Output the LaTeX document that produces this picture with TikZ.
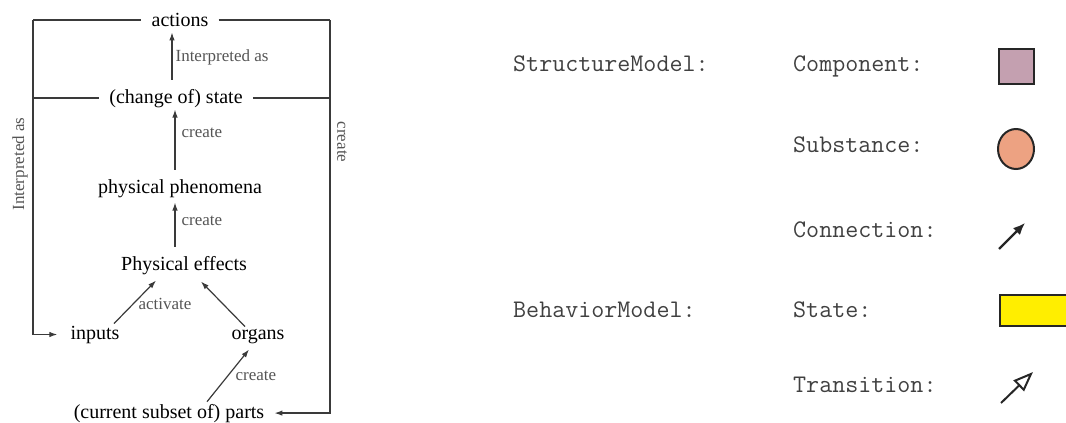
\documentclass[tikz,border=0pt]{standalone}
\usepackage{fontspec}
\setmainfont{Liberation Serif}
\usetikzlibrary{arrows.meta,positioning,shapes.geometric}
\definecolor{lineGray}{HTML}{3A3A3A}
\definecolor{labGray}{HTML}{555555}
\definecolor{monoGray}{HTML}{404040}
\definecolor{compMauve}{HTML}{C4A0B0}
\definecolor{substSalmon}{HTML}{EDA282}
\definecolor{stateYellow}{HTML}{FFEE00}
\tikzset{
  % concepts of the causal chain
  cpt/.style={font=\fontsize{20}{24}\selectfont, inner sep=2pt, anchor=base},
  % concepts that cut through a frame line
  cut/.style={cpt, inner xsep=10pt},
  % gray wording next to a connector
  lbl/.style={font=\fontsize{17}{20}\selectfont, text=labGray, inner sep=3pt},
  % connectors
  arr/.style={-{Latex[length=8pt,width=5.5pt]}, draw=lineGray, line width=1.2pt},
  frame/.style={draw=lineGray, line width=1.2pt},
  % legend
  key/.style={font=\ttfamily\fontsize{25.3}{30}\selectfont, text=monoGray, anchor=base west, inner sep=0pt},
  sym/.style={draw=black!85, line width=2pt},
}

\begin{document}
\begin{tikzpicture}[x=1pt,y=-1pt]
  \useasboundingbox (0,0) rectangle (1066,423);

  % chain of concepts
  \node[cut] (act)   at (180,26)  {actions};
  \node[cut] (st)    at (176,103) {(change of) state};
  \node[cpt] (phen)  at (180,193) {physical phenomena};
  \node[cpt] (eff)   at (184,270) {Physical effects};
  \node[cpt] (inp)   at (95,339)  {inputs};
  \node[cpt] (org)   at (258,339) {organs};
  \node[cpt] (parts) at (169,418) {(current subset of) parts};

  % frame corners
  \coordinate (tl) at (33,20);
  \coordinate (tr) at (330,20);
  \coordinate (ml) at (33,98);
  \coordinate (mr) at (330,98);

  \draw[frame] (tl) -- (tl -| act.west);
  \draw[frame] (tr -| act.east) -- (tr);
  \draw[frame] (ml) -- (ml -| st.west);
  \draw[frame] (mr -| st.east) -- (mr);
  \draw[arr, shorten >=11pt] (tl) |- (inp.west);
  \draw[arr, shorten >=8pt] (tr) |- (parts.east);
  \node[lbl, rotate=90]  (lInt) at (20,164)  {Interpreted as};
  \node[lbl, rotate=-90] (lCre) at (342,142) {create};

  % upward links
  \draw[arr, shorten <=7pt, shorten >=4pt] ([xshift=-4pt]st.north) -- ([xshift=-8pt]act.south)
    node[midway, right, lbl] {Interpreted as};
  \draw[arr, shorten <=7pt] ([xshift=-5pt]phen.north) -- ([xshift=-1pt]st.south)
    node[pos=0.65, right, lbl, xshift=3pt] {create};
  \draw[arr, shorten <=7pt, shorten >=3pt] ([xshift=-9pt]eff.north) -- ([xshift=-5pt]phen.south)
    node[pos=0.6, right, lbl, xshift=3pt] {create};
  \draw[arr] ([xshift=19pt]inp.north) -- ([xshift=-28pt,yshift=-4pt]eff.south)
    node[midway, right, lbl, yshift=-2pt] {activate};
  \draw[arr] ([xshift=-13pt]org.north) -- ([xshift=17pt,yshift=-5pt]eff.south);
  \draw[arr] ([xshift=38pt]parts.north) -- ([xshift=-9pt,yshift=-4pt]org.south)
    node[midway, right, lbl, xshift=4pt] {create};

  % legend
  \node[key] (kStr)  at (513,71)  {StructureModel:};
  \node[key] (kBeh)  at (513,317) {BehaviorModel:};
  \node[key] (kComp) at (793,71)  {Component:};
  \node[key] (kSub)  at (793,152) {Substance:};
  \node[key] (kCon)  at (793,237) {Connection:};
  \node[key] (kSta)  at (793,317) {State:};
  \node[key] (kTra)  at (793,392) {Transition:};

  \node[sym, fill=compMauve, minimum width=35pt, minimum height=35pt, inner sep=0pt]
    (sComp) at (1016,66) {};
  \node[sym, ellipse, fill=substSalmon, minimum width=36pt, minimum height=40pt, inner sep=0pt]
    (sSub) at (1016,149) {};
  \node[sym, fill=stateYellow, minimum width=90pt, minimum height=31pt, inner sep=0pt, anchor=west]
    (sSta) at (999,310) {};
  \coordinate (cTail) at (999,249);
  \coordinate (cTip)  at (1025,223);
  \draw[line width=2.2pt, draw=black!85, -{Latex[length=12pt,width=10pt]}] (cTail) -- (cTip);
  \coordinate (tTail) at (1001,403);
  \coordinate (tTip)  at (1033,372);
  \draw[line width=2pt, draw=black!85, -{Triangle[open,length=20pt,width=15pt,line width=2pt]}] (tTail) -- (tTip);
\end{tikzpicture}
\end{document}
